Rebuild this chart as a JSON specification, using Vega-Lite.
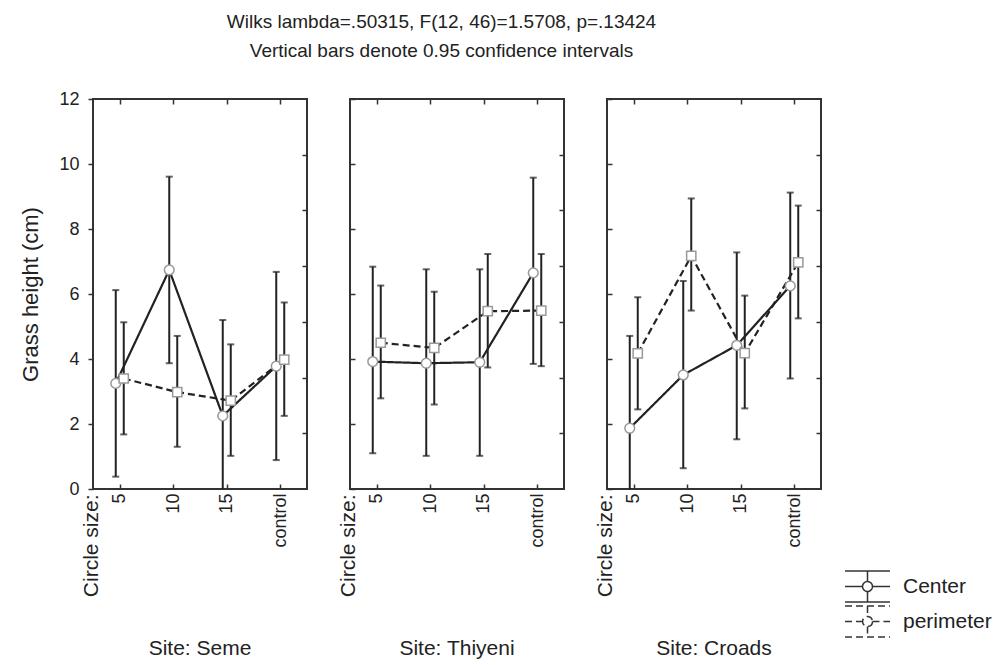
{
  "$schema": "https://vega.github.io/schema/vega-lite/v6.json",
  "background": "white",
  "padding": {"left": 18, "top": 13, "right": 5, "bottom": 5},
  "title": {
    "text": ["Wilks lambda=.50315, F(12, 46)=1.5708, p=.13424", "Vertical bars denote 0.95 confidence intervals"],
    "font": "Liberation Sans", "fontSize": 19, "fontWeight": "normal", "color": "#222",
    "lineHeight": 29, "offset": 28, "anchor": "middle", "frame": "bounds", "dx": -64
  },
  "data": {"values": [
    {"site": "Seme", "size": "5", "series": "Center", "mean": 3.25, "lower": 0.38, "upper": 6.12},
    {"site": "Seme", "size": "5", "series": "perimeter", "mean": 3.4, "lower": 1.68, "upper": 5.13},
    {"site": "Seme", "size": "10", "series": "Center", "mean": 6.74, "lower": 3.87, "upper": 9.61},
    {"site": "Seme", "size": "10", "series": "perimeter", "mean": 2.98, "lower": 1.3, "upper": 4.71},
    {"site": "Seme", "size": "15", "series": "Center", "mean": 2.25, "lower": -0.7, "upper": 5.2},
    {"site": "Seme", "size": "15", "series": "perimeter", "mean": 2.72, "lower": 1.02, "upper": 4.45},
    {"site": "Seme", "size": "control", "series": "Center", "mean": 3.78, "lower": 0.89, "upper": 6.68},
    {"site": "Seme", "size": "control", "series": "perimeter", "mean": 3.98, "lower": 2.25, "upper": 5.74},
    {"site": "Thiyeni", "size": "5", "series": "Center", "mean": 3.92, "lower": 1.1, "upper": 6.84},
    {"site": "Thiyeni", "size": "5", "series": "perimeter", "mean": 4.5, "lower": 2.79, "upper": 6.26},
    {"site": "Thiyeni", "size": "10", "series": "Center", "mean": 3.87, "lower": 1.02, "upper": 6.76},
    {"site": "Thiyeni", "size": "10", "series": "perimeter", "mean": 4.34, "lower": 2.6, "upper": 6.07},
    {"site": "Thiyeni", "size": "15", "series": "Center", "mean": 3.9, "lower": 1.02, "upper": 6.76},
    {"site": "Thiyeni", "size": "15", "series": "perimeter", "mean": 5.47, "lower": 3.74, "upper": 7.23},
    {"site": "Thiyeni", "size": "control", "series": "Center", "mean": 6.65, "lower": 3.85, "upper": 9.58},
    {"site": "Thiyeni", "size": "control", "series": "perimeter", "mean": 5.49, "lower": 3.78, "upper": 7.23},
    {"site": "Croads", "size": "5", "series": "Center", "mean": 1.87, "lower": -0.97, "upper": 4.71},
    {"site": "Croads", "size": "5", "series": "perimeter", "mean": 4.17, "lower": 2.45, "upper": 5.9},
    {"site": "Croads", "size": "10", "series": "Center", "mean": 3.51, "lower": 0.64, "upper": 6.4},
    {"site": "Croads", "size": "10", "series": "perimeter", "mean": 7.17, "lower": 5.49, "upper": 8.94},
    {"site": "Croads", "size": "15", "series": "Center", "mean": 4.42, "lower": 1.53, "upper": 7.28},
    {"site": "Croads", "size": "15", "series": "perimeter", "mean": 4.18, "lower": 2.48, "upper": 5.95},
    {"site": "Croads", "size": "control", "series": "Center", "mean": 6.25, "lower": 3.4, "upper": 9.12},
    {"site": "Croads", "size": "control", "series": "perimeter", "mean": 6.97, "lower": 5.25, "upper": 8.72}
  ]},
  "spacing": 43,
  "bounds": "flush",
  "resolve": {"scale": {"x": "independent", "y": "independent", "xOffset": "independent"}},
  "hconcat": [
    {
      "width": 214, "height": 390,
      "transform": [{"filter": "datum.site === 'Seme'"}],
      "title": {"text": "Site: Seme", "orient": "bottom", "frame": "group", "anchor": "middle", "font": "Liberation Sans", "fontSize": 21, "fontWeight": "normal", "color": "#222", "offset": 41},
      "resolve": {"axis": {"x": "independent", "y": "independent"}},
      "layer": [
        {"mark": {"type": "line", "color": "#222", "strokeWidth": 2.2},
         "encoding": {
           "x": {"field": "size", "type": "ordinal", "sort": ["5", "10", "15", "control"], "scale": {"type": "point", "padding": 0.5},
                 "axis": {"orient": "bottom", "labelAngle": 270, "labelPadding": 9, "tickSize": -5, "title": "Circle size:", "titleAngle": 270, "titleAlign": "right", "titleBaseline": "middle", "titleX": -2, "titleY": 5}},
           "xOffset": {"field": "series", "type": "nominal", "scale": {"type": "point", "range": [-4, 4], "padding": 0}},
           "y": {"field": "mean", "type": "quantitative", "scale": {"domain": [0, 12], "nice": false, "zero": false},
                 "axis": {"orient": "left", "values": [0, 2, 4, 6, 8, 10, 12], "tickSize": 5, "labelPadding": 9, "title": "Grass height (cm)", "titleFontSize": 22, "titlePadding": 16}},
           "strokeDash": {"field": "series", "type": "nominal", "scale": {"domain": ["Center", "perimeter"], "range": [[1, 0], [7, 4]]},
                          "legend": {"title": null, "orient": "none", "legendX": 758, "legendY": 471,
                                     "symbolType": "M-1.45,-1H1.45M-1.45,1H1.45M0,-1V-0.32M0,0.32V1M-1.45,0H-0.32M0.32,0H1.45M0.32,0A0.32,0.32 0 1,1 -0.32,0A0.32,0.32 0 1,1 0.32,0Z",
                                     "symbolSize": 961, "symbolStrokeColor": "#333", "symbolFillColor": "white", "symbolStrokeWidth": 1.5,
                                     "labelFont": "Liberation Sans", "labelFontSize": 21, "labelColor": "#222", "rowPadding": -6, "labelOffset": 19}},
           "detail": {"field": "series"}
         }},
        {"mark": {"type": "rule", "color": "#222", "strokeWidth": 2, "clip": true},
         "encoding": {
           "x": {"field": "size", "type": "ordinal", "sort": ["5", "10", "15", "control"], "scale": {"type": "point", "padding": 0.5},
                 "axis": {"orient": "top", "labels": false, "tickSize": -5, "title": null}},
           "xOffset": {"field": "series", "type": "nominal", "scale": {"type": "point", "range": [-4, 4], "padding": 0}},
           "y": {"field": "lower", "type": "quantitative", "scale": {"domain": [0, 12], "nice": false, "zero": false},
                 "axis": {"orient": "right", "values": [1.714, 3.429, 5.143, 6.857, 8.571, 10.286], "labels": false, "tickSize": -5, "title": null}},
           "y2": {"field": "upper"}
         }},
        {"mark": {"type": "tick", "color": "#222", "thickness": 2, "size": 7, "clip": true},
         "encoding": {
           "x": {"field": "size", "type": "ordinal", "sort": ["5", "10", "15", "control"], "scale": {"type": "point", "padding": 0.5}, "axis": null},
           "xOffset": {"field": "series", "type": "nominal", "scale": {"type": "point", "range": [-4, 4], "padding": 0}},
           "y": {"field": "lower", "type": "quantitative", "scale": {"domain": [0, 12], "nice": false, "zero": false}, "axis": null}
         }},
        {"mark": {"type": "tick", "color": "#222", "thickness": 2, "size": 7, "clip": true},
         "encoding": {
           "x": {"field": "size", "type": "ordinal", "sort": ["5", "10", "15", "control"], "scale": {"type": "point", "padding": 0.5}, "axis": null},
           "xOffset": {"field": "series", "type": "nominal", "scale": {"type": "point", "range": [-4, 4], "padding": 0}},
           "y": {"field": "upper", "type": "quantitative", "scale": {"domain": [0, 12], "nice": false, "zero": false}, "axis": null}
         }},
        {"transform": [{"filter": "datum.series === 'Center'"}],
         "mark": {"type": "point", "shape": "circle", "filled": true, "fill": "white", "stroke": "#999", "strokeWidth": 1.5, "size": 95, "opacity": 1},
         "encoding": {
           "x": {"field": "size", "type": "ordinal", "sort": ["5", "10", "15", "control"], "scale": {"type": "point", "padding": 0.5}, "axis": null},
           "xOffset": {"field": "series", "type": "nominal", "scale": {"type": "point", "range": [-4, 4], "padding": 0}},
           "y": {"field": "mean", "type": "quantitative", "scale": {"domain": [0, 12], "nice": false, "zero": false}, "axis": null}
         }},
        {"transform": [{"filter": "datum.series === 'perimeter'"}],
         "mark": {"type": "point", "shape": "square", "filled": true, "fill": "white", "stroke": "#999", "strokeWidth": 1.5, "size": 85, "opacity": 1},
         "encoding": {
           "x": {"field": "size", "type": "ordinal", "sort": ["5", "10", "15", "control"], "scale": {"type": "point", "padding": 0.5}, "axis": null},
           "xOffset": {"field": "series", "type": "nominal", "scale": {"type": "point", "range": [-4, 4], "padding": 0}},
           "y": {"field": "mean", "type": "quantitative", "scale": {"domain": [0, 12], "nice": false, "zero": false}, "axis": null}
         }}
      ]
    },
    {
      "width": 214, "height": 390,
      "transform": [{"filter": "datum.site === 'Thiyeni'"}],
      "title": {"text": "Site: Thiyeni", "orient": "bottom", "frame": "group", "anchor": "middle", "font": "Liberation Sans", "fontSize": 21, "fontWeight": "normal", "color": "#222", "offset": 41},
      "resolve": {"axis": {"x": "independent", "y": "independent"}},
      "layer": [
        {"mark": {"type": "line", "color": "#222", "strokeWidth": 2.2},
         "encoding": {
           "x": {"field": "size", "type": "ordinal", "sort": ["5", "10", "15", "control"], "scale": {"type": "point", "padding": 0.5},
                 "axis": {"orient": "bottom", "labelAngle": 270, "labelPadding": 9, "tickSize": -5, "title": "Circle size:", "titleAngle": 270, "titleAlign": "right", "titleBaseline": "middle", "titleX": -2, "titleY": 5}},
           "xOffset": {"field": "series", "type": "nominal", "scale": {"type": "point", "range": [-4, 4], "padding": 0}},
           "y": {"field": "mean", "type": "quantitative", "scale": {"domain": [0, 12], "nice": false, "zero": false},
                 "axis": {"orient": "left", "values": [0, 2, 4, 6, 8, 10, 12], "tickSize": -5, "labels": false, "title": null}},
           "strokeDash": {"field": "series", "type": "nominal", "scale": {"domain": ["Center", "perimeter"], "range": [[1, 0], [7, 4]]},
                          "legend": {"title": null, "orient": "none", "legendX": 758, "legendY": 471,
                                     "symbolType": "M-1.45,-1H1.45M-1.45,1H1.45M0,-1V-0.32M0,0.32V1M-1.45,0H-0.32M0.32,0H1.45M0.32,0A0.32,0.32 0 1,1 -0.32,0A0.32,0.32 0 1,1 0.32,0Z",
                                     "symbolSize": 961, "symbolStrokeColor": "#333", "symbolFillColor": "white", "symbolStrokeWidth": 1.5,
                                     "labelFont": "Liberation Sans", "labelFontSize": 21, "labelColor": "#222", "rowPadding": -6, "labelOffset": 19}},
           "detail": {"field": "series"}
         }},
        {"mark": {"type": "rule", "color": "#222", "strokeWidth": 2, "clip": true},
         "encoding": {
           "x": {"field": "size", "type": "ordinal", "sort": ["5", "10", "15", "control"], "scale": {"type": "point", "padding": 0.5},
                 "axis": {"orient": "top", "labels": false, "tickSize": -5, "title": null}},
           "xOffset": {"field": "series", "type": "nominal", "scale": {"type": "point", "range": [-4, 4], "padding": 0}},
           "y": {"field": "lower", "type": "quantitative", "scale": {"domain": [0, 12], "nice": false, "zero": false},
                 "axis": {"orient": "right", "values": [1.714, 3.429, 5.143, 6.857, 8.571, 10.286], "labels": false, "tickSize": -5, "title": null}},
           "y2": {"field": "upper"}
         }},
        {"mark": {"type": "tick", "color": "#222", "thickness": 2, "size": 7, "clip": true},
         "encoding": {
           "x": {"field": "size", "type": "ordinal", "sort": ["5", "10", "15", "control"], "scale": {"type": "point", "padding": 0.5}, "axis": null},
           "xOffset": {"field": "series", "type": "nominal", "scale": {"type": "point", "range": [-4, 4], "padding": 0}},
           "y": {"field": "lower", "type": "quantitative", "scale": {"domain": [0, 12], "nice": false, "zero": false}, "axis": null}
         }},
        {"mark": {"type": "tick", "color": "#222", "thickness": 2, "size": 7, "clip": true},
         "encoding": {
           "x": {"field": "size", "type": "ordinal", "sort": ["5", "10", "15", "control"], "scale": {"type": "point", "padding": 0.5}, "axis": null},
           "xOffset": {"field": "series", "type": "nominal", "scale": {"type": "point", "range": [-4, 4], "padding": 0}},
           "y": {"field": "upper", "type": "quantitative", "scale": {"domain": [0, 12], "nice": false, "zero": false}, "axis": null}
         }},
        {"transform": [{"filter": "datum.series === 'Center'"}],
         "mark": {"type": "point", "shape": "circle", "filled": true, "fill": "white", "stroke": "#999", "strokeWidth": 1.5, "size": 95, "opacity": 1},
         "encoding": {
           "x": {"field": "size", "type": "ordinal", "sort": ["5", "10", "15", "control"], "scale": {"type": "point", "padding": 0.5}, "axis": null},
           "xOffset": {"field": "series", "type": "nominal", "scale": {"type": "point", "range": [-4, 4], "padding": 0}},
           "y": {"field": "mean", "type": "quantitative", "scale": {"domain": [0, 12], "nice": false, "zero": false}, "axis": null}
         }},
        {"transform": [{"filter": "datum.series === 'perimeter'"}],
         "mark": {"type": "point", "shape": "square", "filled": true, "fill": "white", "stroke": "#999", "strokeWidth": 1.5, "size": 85, "opacity": 1},
         "encoding": {
           "x": {"field": "size", "type": "ordinal", "sort": ["5", "10", "15", "control"], "scale": {"type": "point", "padding": 0.5}, "axis": null},
           "xOffset": {"field": "series", "type": "nominal", "scale": {"type": "point", "range": [-4, 4], "padding": 0}},
           "y": {"field": "mean", "type": "quantitative", "scale": {"domain": [0, 12], "nice": false, "zero": false}, "axis": null}
         }}
      ]
    },
    {
      "width": 214, "height": 390,
      "transform": [{"filter": "datum.site === 'Croads'"}],
      "title": {"text": "Site: Croads", "orient": "bottom", "frame": "group", "anchor": "middle", "font": "Liberation Sans", "fontSize": 21, "fontWeight": "normal", "color": "#222", "offset": 41},
      "resolve": {"axis": {"x": "independent", "y": "independent"}},
      "layer": [
        {"mark": {"type": "line", "color": "#222", "strokeWidth": 2.2},
         "encoding": {
           "x": {"field": "size", "type": "ordinal", "sort": ["5", "10", "15", "control"], "scale": {"type": "point", "padding": 0.5},
                 "axis": {"orient": "bottom", "labelAngle": 270, "labelPadding": 9, "tickSize": -5, "title": "Circle size:", "titleAngle": 270, "titleAlign": "right", "titleBaseline": "middle", "titleX": -2, "titleY": 5}},
           "xOffset": {"field": "series", "type": "nominal", "scale": {"type": "point", "range": [-4, 4], "padding": 0}},
           "y": {"field": "mean", "type": "quantitative", "scale": {"domain": [0, 12], "nice": false, "zero": false},
                 "axis": {"orient": "left", "values": [0, 2, 4, 6, 8, 10, 12], "tickSize": -5, "labels": false, "title": null}},
           "strokeDash": {"field": "series", "type": "nominal", "scale": {"domain": ["Center", "perimeter"], "range": [[1, 0], [7, 4]]},
                          "legend": {"title": null, "orient": "none", "legendX": 758, "legendY": 471,
                                     "symbolType": "M-1.45,-1H1.45M-1.45,1H1.45M0,-1V-0.32M0,0.32V1M-1.45,0H-0.32M0.32,0H1.45M0.32,0A0.32,0.32 0 1,1 -0.32,0A0.32,0.32 0 1,1 0.32,0Z",
                                     "symbolSize": 961, "symbolStrokeColor": "#333", "symbolFillColor": "white", "symbolStrokeWidth": 1.5,
                                     "labelFont": "Liberation Sans", "labelFontSize": 21, "labelColor": "#222", "rowPadding": -6, "labelOffset": 19}},
           "detail": {"field": "series"}
         }},
        {"mark": {"type": "rule", "color": "#222", "strokeWidth": 2, "clip": true},
         "encoding": {
           "x": {"field": "size", "type": "ordinal", "sort": ["5", "10", "15", "control"], "scale": {"type": "point", "padding": 0.5},
                 "axis": {"orient": "top", "labels": false, "tickSize": -5, "title": null}},
           "xOffset": {"field": "series", "type": "nominal", "scale": {"type": "point", "range": [-4, 4], "padding": 0}},
           "y": {"field": "lower", "type": "quantitative", "scale": {"domain": [0, 12], "nice": false, "zero": false},
                 "axis": {"orient": "right", "values": [1.714, 3.429, 5.143, 6.857, 8.571, 10.286], "labels": false, "tickSize": -5, "title": null}},
           "y2": {"field": "upper"}
         }},
        {"mark": {"type": "tick", "color": "#222", "thickness": 2, "size": 7, "clip": true},
         "encoding": {
           "x": {"field": "size", "type": "ordinal", "sort": ["5", "10", "15", "control"], "scale": {"type": "point", "padding": 0.5}, "axis": null},
           "xOffset": {"field": "series", "type": "nominal", "scale": {"type": "point", "range": [-4, 4], "padding": 0}},
           "y": {"field": "lower", "type": "quantitative", "scale": {"domain": [0, 12], "nice": false, "zero": false}, "axis": null}
         }},
        {"mark": {"type": "tick", "color": "#222", "thickness": 2, "size": 7, "clip": true},
         "encoding": {
           "x": {"field": "size", "type": "ordinal", "sort": ["5", "10", "15", "control"], "scale": {"type": "point", "padding": 0.5}, "axis": null},
           "xOffset": {"field": "series", "type": "nominal", "scale": {"type": "point", "range": [-4, 4], "padding": 0}},
           "y": {"field": "upper", "type": "quantitative", "scale": {"domain": [0, 12], "nice": false, "zero": false}, "axis": null}
         }},
        {"transform": [{"filter": "datum.series === 'Center'"}],
         "mark": {"type": "point", "shape": "circle", "filled": true, "fill": "white", "stroke": "#999", "strokeWidth": 1.5, "size": 95, "opacity": 1},
         "encoding": {
           "x": {"field": "size", "type": "ordinal", "sort": ["5", "10", "15", "control"], "scale": {"type": "point", "padding": 0.5}, "axis": null},
           "xOffset": {"field": "series", "type": "nominal", "scale": {"type": "point", "range": [-4, 4], "padding": 0}},
           "y": {"field": "mean", "type": "quantitative", "scale": {"domain": [0, 12], "nice": false, "zero": false}, "axis": null}
         }},
        {"transform": [{"filter": "datum.series === 'perimeter'"}],
         "mark": {"type": "point", "shape": "square", "filled": true, "fill": "white", "stroke": "#999", "strokeWidth": 1.5, "size": 85, "opacity": 1},
         "encoding": {
           "x": {"field": "size", "type": "ordinal", "sort": ["5", "10", "15", "control"], "scale": {"type": "point", "padding": 0.5}, "axis": null},
           "xOffset": {"field": "series", "type": "nominal", "scale": {"type": "point", "range": [-4, 4], "padding": 0}},
           "y": {"field": "mean", "type": "quantitative", "scale": {"domain": [0, 12], "nice": false, "zero": false}, "axis": null}
         }}
      ]
    }
  ],
  "config": {
    "view": {"stroke": "#333", "strokeWidth": 2},
    "axis": {"domain": false, "grid": false, "tickColor": "#333", "tickWidth": 1.5,
             "labelFont": "Liberation Sans", "labelFontSize": 18, "labelColor": "#222",
             "titleFont": "Liberation Sans", "titleFontSize": 21, "titleFontWeight": "normal", "titleColor": "#222"}
  }
}
